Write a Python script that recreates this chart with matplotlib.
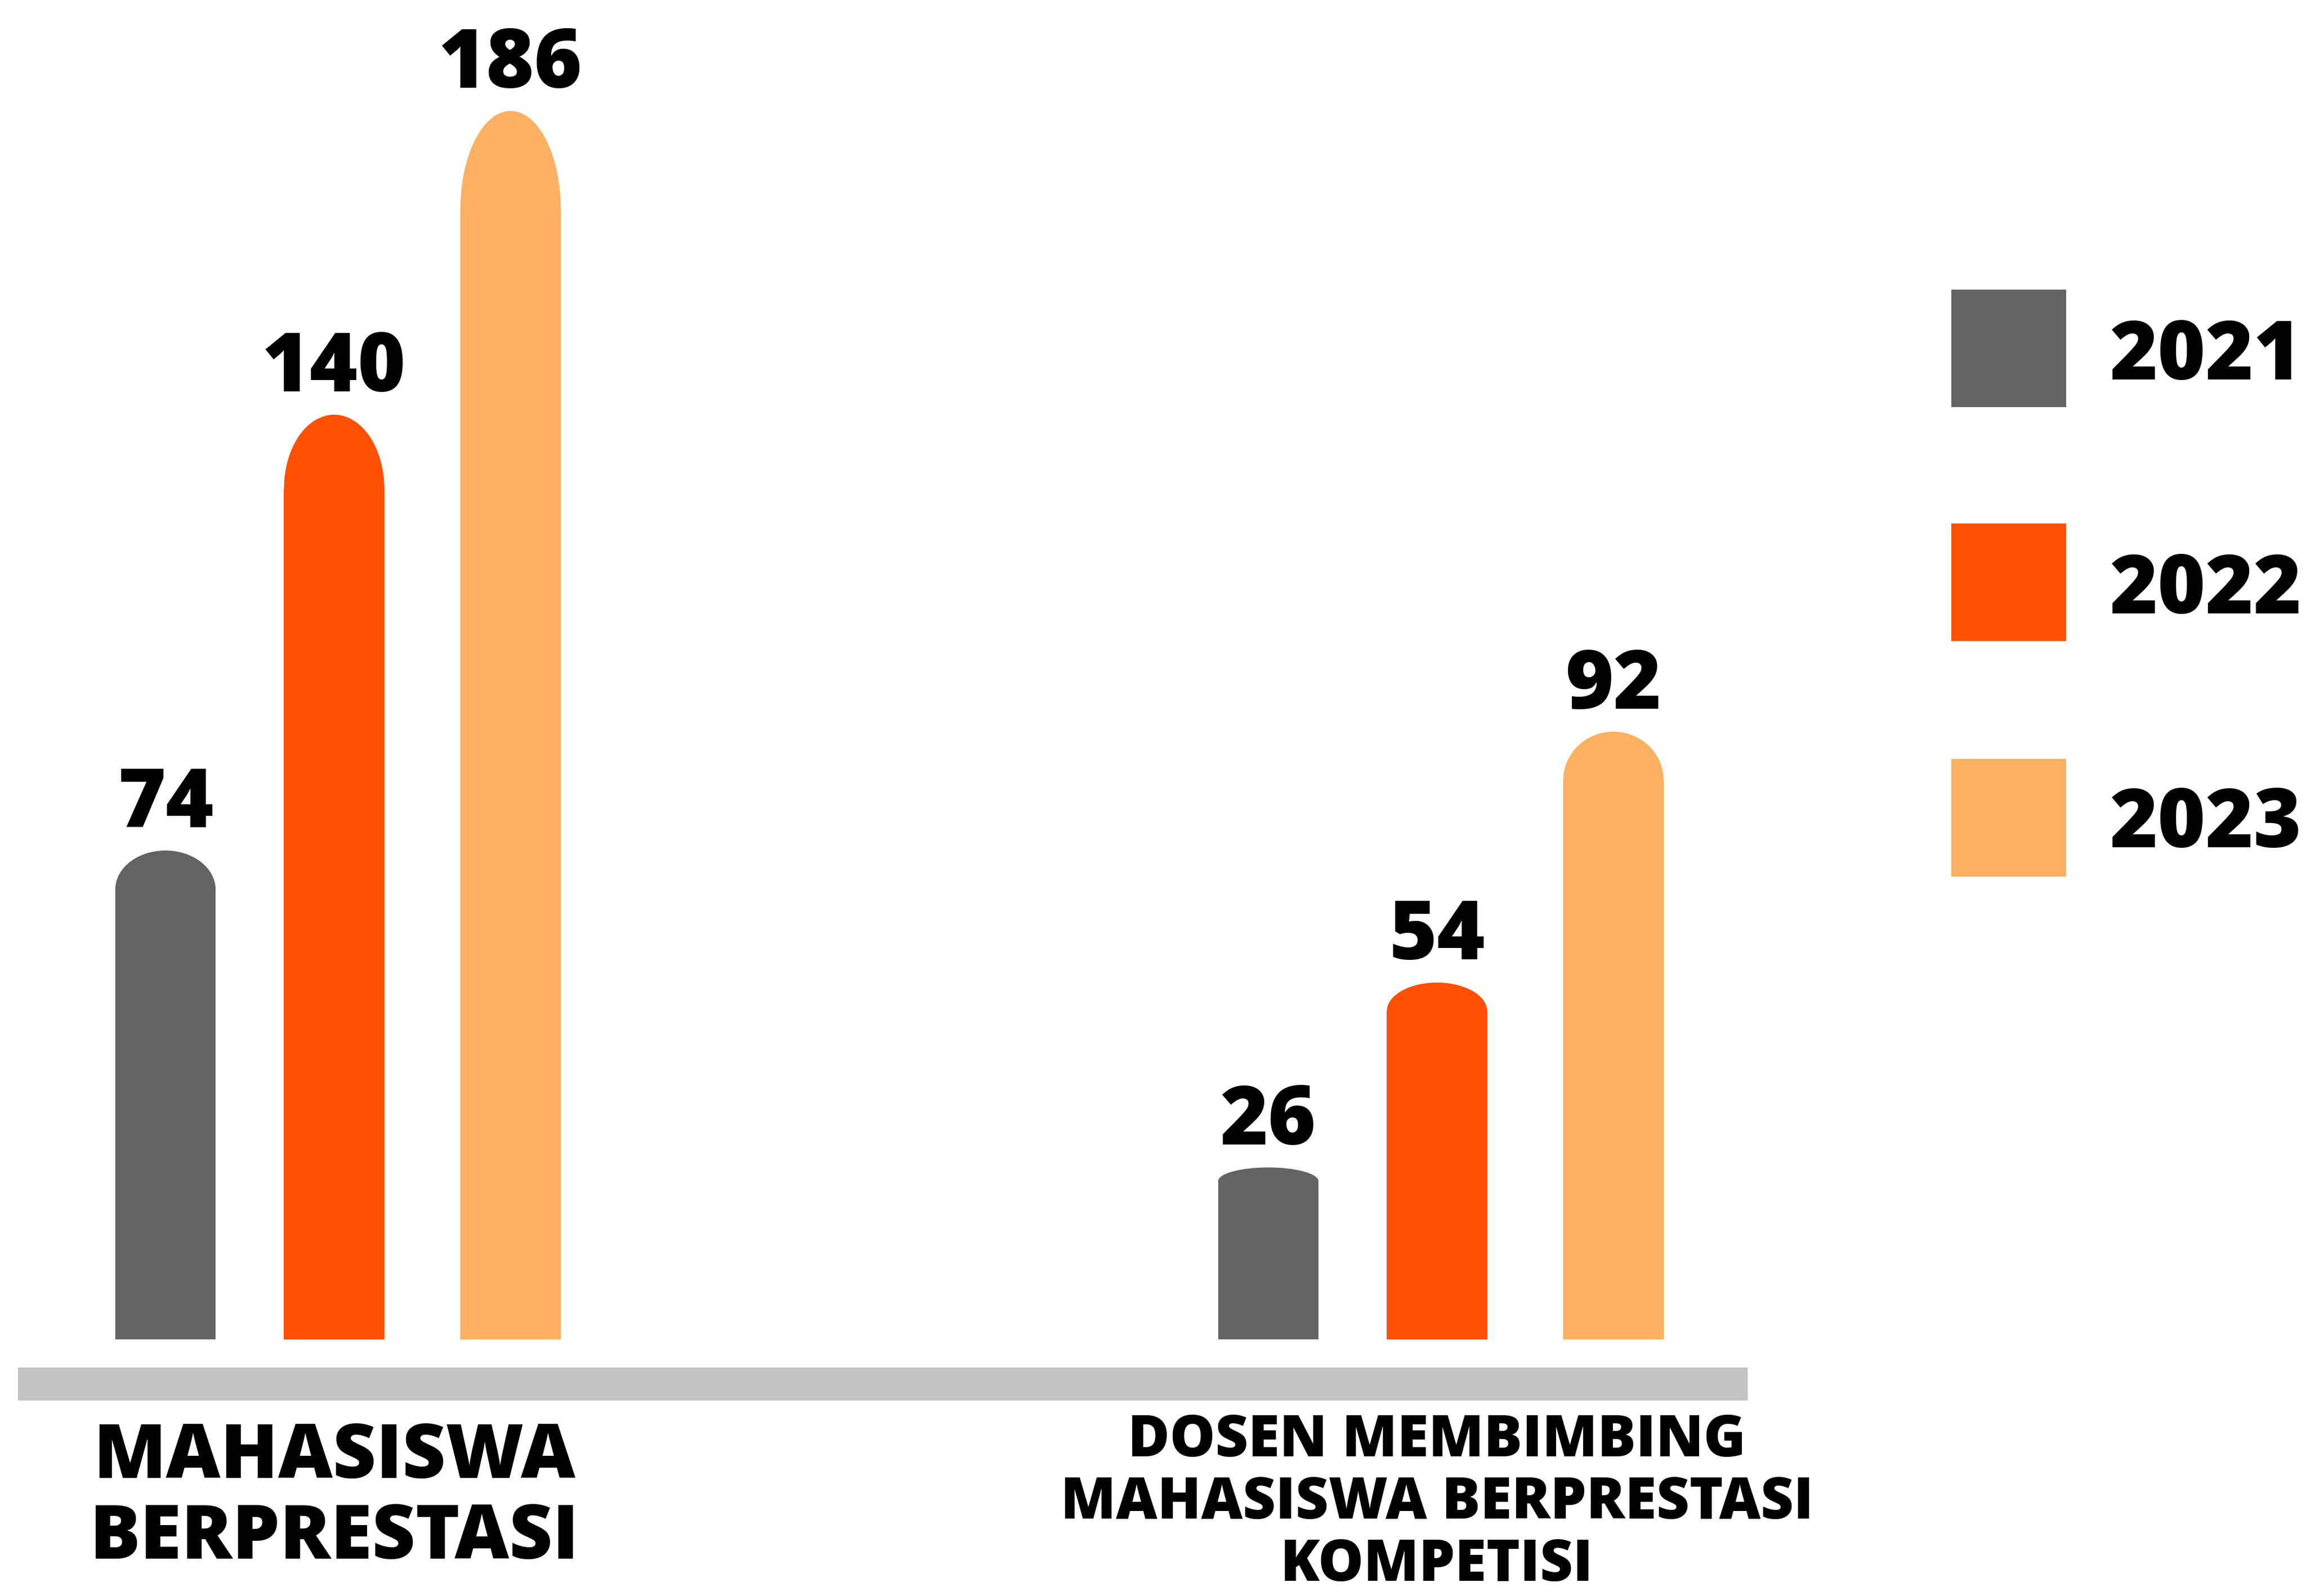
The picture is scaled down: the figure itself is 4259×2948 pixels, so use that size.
import matplotlib.pyplot as plt
from matplotlib.patches import Ellipse, Rectangle

# data
categories = ["MAHASISWA\nBERPRESTASI", "DOSEN MEMBIMBING\nMAHASISWA BERPRESTASI\nKOMPETISI"]
years = ["2021", "2022", "2023"]
v2021 = [74, 26]
v2022 = [140, 54]
v2023 = [186, 92]
values = [v2021, v2022, v2023]

# style
colors = ["#636363", "#ff5003", "#fbb062"]
offsets = [-0.153, 0.0, 0.16]
bar_w = 0.091
cap_frac = 0.08
label_sizes = [100, 76]
label_y = [-24.2, -24.9]

plt.rcParams['font.family'] = ['Open Sans', 'DejaVu Sans']

W, H = 4259, 2948
fig = plt.figure(figsize=(W / 100, H / 100), dpi=100)
ax = fig.add_axes([0, 0, 1, 1])
ax.set_xlim(-0.303, 1.788)
ax.set_ylim(-38.9, 202.8)
ax.axis('off')

for i, vals in enumerate(values):
    for j, v in enumerate(vals):
        x = j + offsets[i]
        cap = v * cap_frac
        ax.bar(x, v - cap, width=bar_w, color=colors[i], linewidth=0)
        ax.add_patch(Ellipse((x, v - cap), bar_w, 2 * cap, color=colors[i], linewidth=0))
        ax.text(x, v + 3.5, str(v), ha='center', va='baseline',
                fontsize=109, fontweight='heavy', color='black')

# ground line
ax.axhspan(-9.3, -4.3, xmin=0.0077, xmax=0.758, color='#c4c4c4', linewidth=0)

for j, cat in enumerate(categories):
    ax.text(j, label_y[j], cat, ha='center', va='center', linespacing=1.1,
            fontsize=label_sizes[j], fontweight='heavy', color='black')

# legend drawn by hand
sq_bottom = [0.7449, 0.5984, 0.4508]
txt_base = [1 - 701 / H, 1 - 1133 / H, 1 - 1565 / H]
for i, year in enumerate(years):
    fig.add_artist(Rectangle((0.8462, sq_bottom[i]), 0.0498, 0.0736,
                             transform=fig.transFigure, color=colors[i], linewidth=0))
    fig.text(4074 / W, txt_base[i], year, ha='center', va='baseline',
             fontsize=109, fontweight='heavy', color='black')

fig.savefig("out.png", dpi=100, facecolor='white')
